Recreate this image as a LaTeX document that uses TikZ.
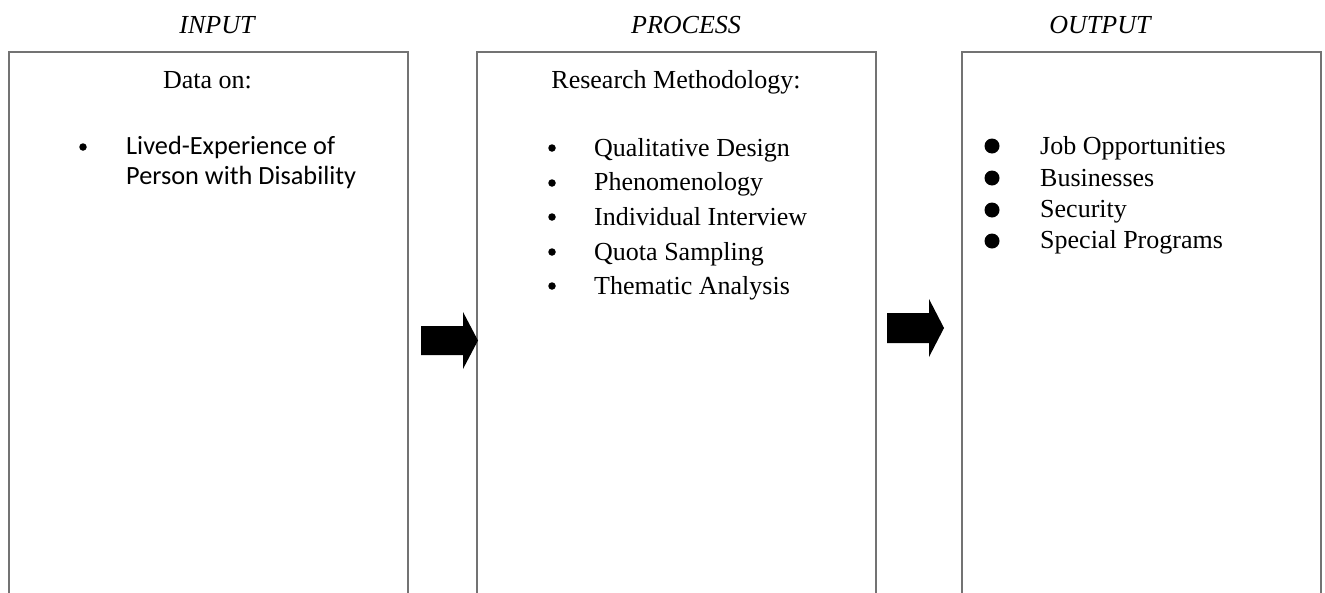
\documentclass[tikz,border=0pt]{standalone}
\usepackage{fontspec}
\setmainfont{Liberation Serif}
\newfontfamily\calib{Carlito}
\begin{document}
\begin{tikzpicture}[x=1pt,y=-1pt,
  boxline/.style={draw=black!55, line width=1.8pt},
  title/.style={anchor=base, inner sep=0, font=\fontsize{26}{32}\selectfont\itshape},
  txt/.style={anchor=base west, inner sep=0, font=\fontsize{26}{32}\selectfont},
  head/.style={anchor=base, inner sep=0, font=\fontsize{26}{32}\selectfont},
  sbul/.style={circle, fill=black, inner sep=0, minimum size=7.5pt},
  bbul/.style={circle, fill=black, inner sep=0, minimum size=15pt},
  blockarrow/.style={fill=black}]
\useasboundingbox (0,0) rectangle (1325,592);
% titles
\node[title] (tin) at (217,33) {INPUT};
\node[title] (tpr) at (686,33) {PROCESS};
\node[title] (tout) at (1100,33) {OUTPUT};
% boxes (open at the bottom edge of the picture)
\coordinate (inNW) at (9,52);   \coordinate (inNE) at (408,52);
\coordinate (prNW) at (477,52); \coordinate (prNE) at (876,52);
\coordinate (ouNW) at (962,52); \coordinate (ouNE) at (1321,52);
\draw[boxline] (inNW |- 0,600) -- (inNW) -- (inNE) -- (inNE |- 0,600);
\draw[boxline] (prNW |- 0,600) -- (prNW) -- (prNE) -- (prNE |- 0,600);
\draw[boxline] (ouNW |- 0,600) -- (ouNW) -- (ouNE) -- (ouNE |- 0,600);
% input content
\node[head] (din) at (207.5,88) {Data on:};
\node[sbul] (ib1) at (83,147) {};
\node[txt, font=\fontsize{26.3}{30}\selectfont\calib] (it1) at (126,154) {Lived-Experience of};
\node[txt, font=\fontsize{26.3}{30}\selectfont\calib] (it2) at (126,184) {Person with Disability};
% process content
\node[head] (dpr) at (676,88) {Research Methodology:};
\node[sbul] (pb1) at (552,148) {}; \node[txt] (pt1) at (594,156) {Qualitative Design};
\node[sbul] (pb2) at (552,183) {}; \node[txt] (pt2) at (594,190) {Phenomenology};
\node[sbul] (pb3) at (552,217) {}; \node[txt] (pt3) at (594,225) {Individual Interview};
\node[sbul] (pb4) at (552,252) {}; \node[txt] (pt4) at (594,260) {Quota Sampling};
\node[sbul] (pb5) at (552,286) {}; \node[txt] (pt5) at (594,294) {Thematic Analysis};
% output content
\node[bbul] (ob1) at (992,146) {}; \node[txt] (ot1) at (1040,154) {Job Opportunities};
\node[bbul] (ob2) at (992,178) {}; \node[txt] (ot2) at (1040,186) {Businesses};
\node[bbul] (ob3) at (992,210) {}; \node[txt] (ot3) at (1040,217) {Security};
\node[bbul] (ob4) at (992,241) {}; \node[txt] (ot4) at (1040,248) {Special Programs};
% block arrows
\coordinate (a1) at (421,340.5);
\fill[blockarrow] (a1) ++(0,-14.5) -- ++(42,0) -- ++(0,-14) -- (478,340.5) -- (463,369) -- ++(0,-14) -- ++(-42,0) -- cycle;
\coordinate (a2) at (887,328);
\fill[blockarrow] (a2) ++(0,-15) -- ++(42,0) -- ++(0,-14) -- (944,328) -- (929,357) -- ++(0,-14) -- ++(-42,0) -- cycle;
\end{tikzpicture}
\end{document}
